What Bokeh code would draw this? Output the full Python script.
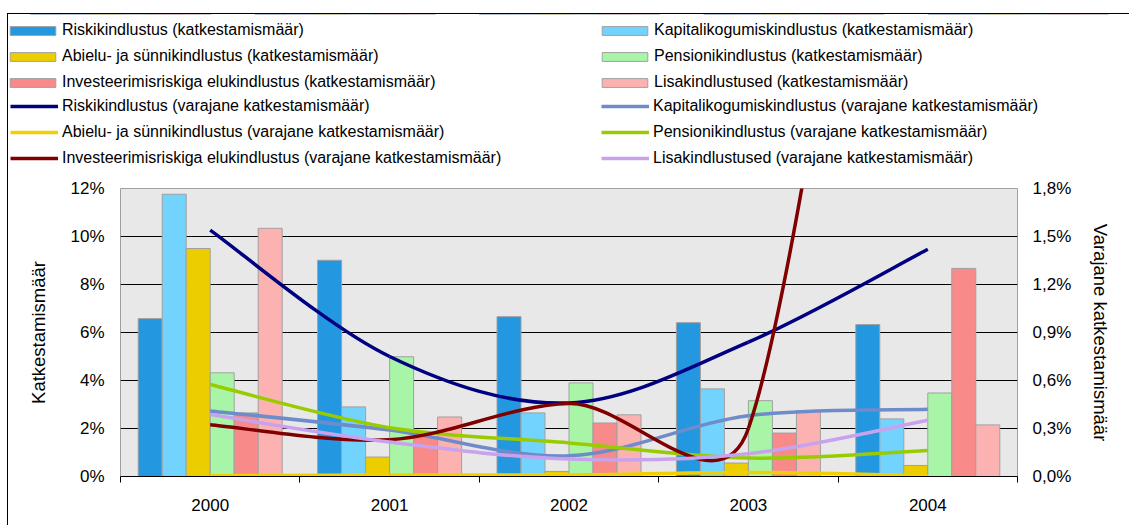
import math
from bokeh.plotting import figure
from bokeh.models import Range1d, LinearAxis, FixedTicker, Legend, LegendItem
from bokeh.embed import file_html
from bokeh.resources import INLINE

# ---------------- data ----------------
years = ["2000", "2001", "2002", "2003", "2004"]

# bars: katkestamismäär (%), left axis
riski_bar = [6.58, 9.01, 6.66, 6.41, 6.33]
kapital_bar = [11.76, 2.90, 2.65, 3.65, 2.40]
abielu_bar = [9.50, 0.81, 0.21, 0.56, 0.46]
pension_bar = [4.32, 4.99, 3.90, 3.16, 3.48]
invest_bar = [2.65, 1.65, 2.23, 1.81, 8.67]
lisa_bar = [10.34, 2.48, 2.57, 2.75, 2.15]

# lines: varajane katkestamismäär (%), right axis
riski_line = [1.54, 0.75, 0.46, 0.84, 1.42]
kapital_line = [0.41, 0.29, 0.13, 0.38, 0.42]
abielu_line = [0.005, 0.01, 0.01, 0.025, 0.005]
pension_line = [0.575, 0.305, 0.21, 0.115, 0.163]
invest_line = [0.324, 0.23, 0.456, 0.30, 7.0]
lisa_line = [0.387, 0.215, 0.109, 0.142, 0.351]

left_ticks = [0, 2, 4, 6, 8, 10, 12]
left_labels = ["0%", "2%", "4%", "6%", "8%", "10%", "12%"]
right_ticks = [0, 0.3, 0.6, 0.9, 1.2, 1.5, 1.8]
right_labels = ["0,0%", "0,3%", "0,6%", "0,9%", "1,2%", "1,5%", "1,8%"]

bar_names = ["Riskikindlustus (katkestamismäär)",
             "Kapitalikogumiskindlustus (katkestamismäär)",
             "Abielu- ja sünnikindlustus (katkestamismäär)",
             "Pensionikindlustus (katkestamismäär)",
             "Investeerimisriskiga elukindlustus (katkestamismäär)",
             "Lisakindlustused (katkestamismäär)"]
line_names = ["Riskikindlustus (varajane katkestamismäär)",
              "Kapitalikogumiskindlustus (varajane katkestamismäär)",
              "Abielu- ja sünnikindlustus (varajane katkestamismäär)",
              "Pensionikindlustus (varajane katkestamismäär)",
              "Investeerimisriskiga elukindlustus (varajane katkestamismäär)",
              "Lisakindlustused (varajane katkestamismäär)"]

bar_series = [riski_bar, kapital_bar, abielu_bar, pension_bar, invest_bar, lisa_bar]
line_series = [riski_line, kapital_line, abielu_line, pension_line, invest_line, lisa_line]
bar_colors = ["#2397df", "#72d3fe", "#ecce00", "#a8f5a8", "#f88a8a", "#fdb2b2"]
line_colors = ["#000080", "#6f8cca", "#f2d000", "#99cc00", "#800000", "#c9a2ee"]
BAR_LINE = "#a0a0a0"
LINE_W = 3.5

# ---------------- layout (page px) ----------------
FONT = "Liberation Sans"
OX, OY = 8, 14            # canvas origin on the page (css margin + border)
W = 1130 - OX
HL = 160                  # legend strip height
CY = OY + HL              # chart canvas top on page
H = 526 - CY
BL, BT = 120 - OX, 189 - CY
BR, BB = W - (1017 - OX), H - (477 - CY)
FW = W - BL - BR
FH = H - BT - BB
NCAT = len(years)
PX_X = FW / NCAT          # px per category
PX_Y = FH / 1.8           # px per 1 % on the right axis

p = figure(width=W, height=H, output_backend="svg", toolbar_location=None,
           x_range=Range1d(0, NCAT), y_range=Range1d(0, 12),
           min_border_left=BL, min_border_right=BR, min_border_top=BT, min_border_bottom=BB,
           background_fill_color="#e8e8e8", border_fill_color="white",
           outline_line_color="#a0a0a0", outline_line_width=1)
p.styles = {"margin-left": "7px", "border-left": "1px solid black"}
p.extra_y_ranges = {"right": Range1d(0, 1.8)}

# x axis
xa = p.xaxis[0]
xa.ticker = FixedTicker(ticks=[i + 0.5 for i in range(NCAT)],
                        minor_ticks=list(range(NCAT + 1)))
xa.major_label_overrides = {i + 0.5: y for i, y in enumerate(years)}
xa.major_tick_out = 0
xa.major_tick_in = 0
xa.minor_tick_out = 6
xa.minor_tick_in = 0
xa.minor_tick_line_color = "black"
xa.axis_line_color = "black"
xa.major_label_standoff = 16
xa.major_label_text_font = FONT
xa.major_label_text_font_size = "17px"
xa.major_label_text_color = "black"

# left axis
ya = p.yaxis[0]
ya.ticker = FixedTicker(ticks=left_ticks)
ya.major_label_overrides = {t: l for t, l in zip(left_ticks, left_labels)}
ya.axis_line_color = None
ya.major_tick_out = 0
ya.major_tick_in = 0
ya.minor_tick_line_color = None
ya.major_label_standoff = 16
ya.major_label_text_font = FONT
ya.major_label_text_font_size = "17px"
ya.major_label_text_color = "black"
ya.axis_label = "Katkestamismäär"
ya.axis_label_text_font = FONT
ya.axis_label_text_font_size = "18.5px"
ya.axis_label_text_font_style = "normal"
ya.axis_label_text_color = "black"
ya.axis_label_standoff = 18

# right axis
ra = LinearAxis(y_range_name="right", ticker=FixedTicker(ticks=right_ticks))
ra.major_label_overrides = {t: l for t, l in zip(right_ticks, right_labels)}
ra.axis_line_color = None
ra.major_tick_out = 0
ra.major_tick_in = 0
ra.minor_tick_line_color = None
ra.major_label_standoff = 15
ra.major_label_text_font = FONT
ra.major_label_text_font_size = "17px"
ra.major_label_text_color = "black"
ra.axis_label = "Varajane katkestamismäär"
ra.axis_label_text_font = FONT
ra.axis_label_text_font_size = "18.5px"
ra.axis_label_text_font_style = "normal"
ra.axis_label_text_color = "black"
ra.axis_label_standoff = 16
p.add_layout(ra, "right")

p.xgrid.visible = False
p.ygrid.ticker = FixedTicker(ticks=left_ticks)
p.ygrid.grid_line_color = "black"
p.ygrid.grid_line_width = 1

# ---------------- legend strip (separate figure above the chart) ----------------
lf = figure(width=W, height=HL, output_backend="svg", toolbar_location=None,
            x_range=Range1d(0, NCAT), y_range=Range1d(-200, -100),
            min_border_left=0, min_border_right=0, min_border_top=0, min_border_bottom=0,
            background_fill_color="white", border_fill_color="white",
            outline_line_color=None)
lf.styles = {"margin-left": "7px", "margin-top": "13px",
             "border-left": "1px solid black", "border-top": "1px solid black"}
lf.xaxis.visible = False
lf.yaxis.visible = False
lf.grid.visible = False

# ---------------- bars ----------------
bar_w = 24 / PX_X
nser = len(bar_series)
leg_bar = []
for k, (vals, col) in enumerate(zip(bar_series, bar_colors)):
    xs = [i + 0.5 + (k - (nser - 1) / 2) * bar_w for i in range(NCAT)]
    kw = dict(x=xs, top=vals, bottom=0, width=bar_w, fill_color=col,
              line_color=BAR_LINE, line_width=1)
    p.vbar(**kw)
    leg_bar.append(lf.vbar(**kw))   # legend swatch (outside the strip's visible range)

# ---------------- smoothed lines (Excel-style bezier) ----------------
def smooth_segments(vals):
    pts = [((i + 0.5) * PX_X, v * PX_Y) for i, v in enumerate(vals)]
    n = len(pts)
    segs = []
    d = lambda a, b: math.hypot(a[0] - b[0], a[1] - b[1])
    for i in range(n - 1):
        p0 = pts[i - 1] if i > 0 else pts[i]
        p1, p2 = pts[i], pts[i + 1]
        p3 = pts[i + 2] if i + 2 < n else pts[i + 1]
        d12, d02, d13 = d(p1, p2), d(p0, p2), d(p1, p3)
        f1 = 1 / 6 if d02 / 6 < d12 / 2 else (d12 / 2 / d02 if d02 else 0)
        f2 = 1 / 6 if d13 / 6 < d12 / 2 else (d12 / 2 / d13 if d13 else 0)
        c1 = (p1[0] + f1 * (p2[0] - p0[0]), p1[1] + f1 * (p2[1] - p0[1]))
        c2 = (p2[0] - f2 * (p3[0] - p1[0]), p2[1] - f2 * (p3[1] - p1[1]))
        segs.append([(q[0] / PX_X, q[1] / PX_Y) for q in (p1, p2, c1, c2)])
    return segs

leg_line = []
for vals, col in zip(line_series, line_colors):
    segs = smooth_segments(vals)
    p.bezier(x0=[s[0][0] for s in segs], y0=[s[0][1] for s in segs],
             x1=[s[1][0] for s in segs], y1=[s[1][1] for s in segs],
             cx0=[s[2][0] for s in segs], cy0=[s[2][1] for s in segs],
             cx1=[s[3][0] for s in segs], cy1=[s[3][1] for s in segs],
             line_color=col, line_width=LINE_W, y_range_name="right")
    leg_line.append(lf.line(x=[i + 0.5 for i in range(NCAT)], y=vals,
                            line_color=col, line_width=LINE_W))

# ---------------- legends ----------------
LH, SP = 20, 6

def add_legend(idx, kind, x_page, top_page, gw, gh, standoff):
    rs = leg_bar if kind == "b" else leg_line
    names = bar_names if kind == "b" else line_names
    items = [LegendItem(label=names[k], renderers=[rs[k]]) for k in idx]
    n = len(items)
    h = n * LH + (n - 1) * SP
    lg = Legend(items=items, orientation="vertical",
                location=(x_page - OX, HL - (top_page - OY) - h),
                glyph_width=gw, glyph_height=gh, label_height=LH, spacing=SP,
                label_standoff=standoff, padding=0, margin=0,
                border_line_alpha=0, background_fill_alpha=0,
                label_text_font=FONT, label_text_font_size="16px", label_text_color="black")
    lf.add_layout(lg)

add_legend([0, 2, 4], "b", 4, 20, 57, 11, 1)
add_legend([1, 3, 5], "b", 596, 20, 57, 11, 1)
add_legend([0, 2, 4], "l", 10, 96, 48, 20, 4)
add_legend([1, 3, 5], "l", 601, 96, 48, 20, 4)

open("out.html", "w").write(file_html([lf, p], INLINE))
